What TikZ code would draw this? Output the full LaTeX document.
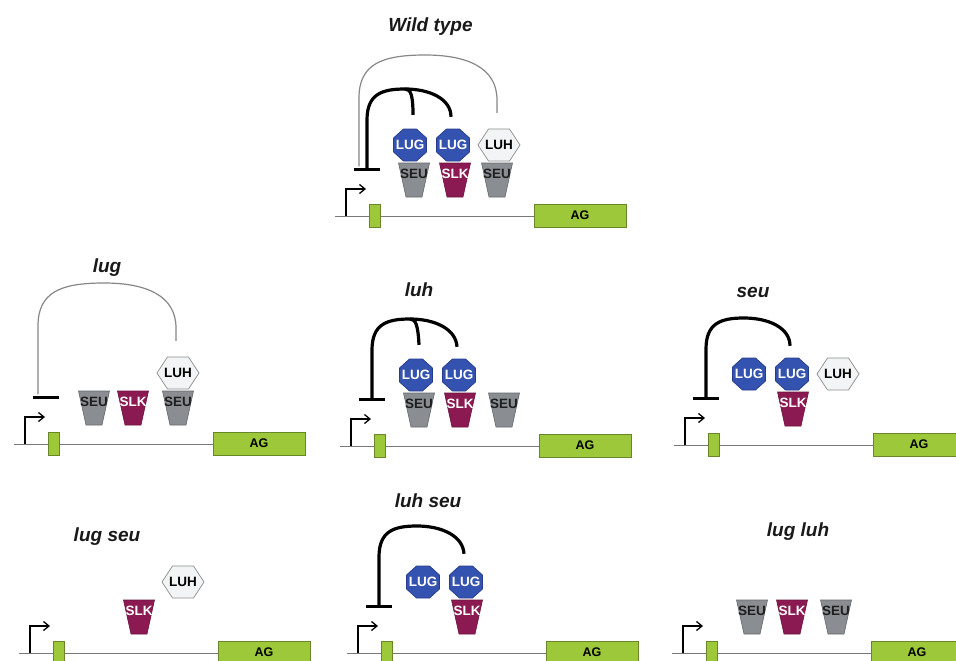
\documentclass[tikz,border=0pt]{standalone}
\usepackage{fontspec}
\setmainfont{Liberation Sans}
\usetikzlibrary{arrows.meta,calc}
\definecolor{lugblue}{RGB}{52,82,175}
\definecolor{lugedge}{RGB}{38,60,140}
\definecolor{seugrey}{RGB}{138,142,146}
\definecolor{seuedge}{RGB}{100,104,108}
\definecolor{seutext}{RGB}{30,30,30}
\definecolor{slkred}{RGB}{140,26,82}
\definecolor{slkedge}{RGB}{105,20,60}
\definecolor{luhbg}{RGB}{242,244,245}
\definecolor{luhedge}{RGB}{140,140,140}
\definecolor{aggreen}{RGB}{156,200,58}
\definecolor{agedge}{RGB}{105,135,40}
\definecolor{dnagrey}{RGB}{120,120,120}
\definecolor{curvegrey}{RGB}{135,135,135}
\tikzset{
 lugfill/.style={fill=lugblue,draw=lugedge,line width=0.7pt},
 luhfill/.style={fill=luhbg,draw=luhedge,line width=0.7pt},
 seufill/.style={fill=seugrey,draw=seuedge,line width=0.6pt},
 slkfill/.style={fill=slkred,draw=slkedge,line width=0.6pt},
 ptxt/.style={inner sep=0pt,font=\fontsize{13.5}{14}\selectfont\bfseries},
 lugtxt/.style={ptxt,text=white,minimum width=33pt,minimum height=32pt},
 luhtxt/.style={ptxt,text=black,minimum width=42pt,minimum height=32pt},
 seutxt/.style={ptxt,text=seutext},
 slktxt/.style={ptxt,text=white},
 exonbox/.style={fill=aggreen,draw=agedge,line width=0.7pt,minimum width=11pt,minimum height=23pt,inner sep=0pt},
 agbox/.style={exonbox,minimum width=92pt,font=\fontsize{12.5}{13}\selectfont\bfseries},
 dna/.style={draw=dnagrey,line width=1pt},
 prom/.style={draw=black,line width=1.3pt,-{Straight Barb[length=5.5pt,width=9pt]}},
 repbar/.style={fill=black,minimum width=26pt,minimum height=3pt,inner sep=0pt},
 repline/.style={draw=black,line width=3.2pt},
 luhline/.style={draw=curvegrey,line width=1.2pt},
 mtitle/.style={anchor=base,font=\fontsize{19}{20}\selectfont\bfseries\itshape,text=black!90},
}
% protein shapes (local panel coordinates, x right, y down, in px)
\newcommand\LUGnode[3]{%
 \path[lugfill] (#2-6.5,#3-16) -- (#2+6.5,#3-16) -- (#2+16.5,#3-7) -- (#2+16.5,#3+7) -- (#2+6.5,#3+16) -- (#2-6.5,#3+16) -- (#2-16.5,#3+7) -- (#2-16.5,#3-7) -- cycle;
 \node[lugtxt] (#1) at (#2,#3) {LUG};}
\newcommand\LUHnode[3]{%
 \path[luhfill] (#2-21,#3) -- (#2-10.5,#3-16) -- (#2+10.5,#3-16) -- (#2+21,#3) -- (#2+10.5,#3+16) -- (#2-10.5,#3+16) -- cycle;
 \node[luhtxt] (#1) at (#2,#3) {LUH};}
\newcommand\TRAPnode[6]{%
 \path[#4] (#2-15.5,#3) -- (#2+15.5,#3) -- (#2+8,#3+34) -- (#2-8,#3+34) -- cycle;
 \node[#5] (#1) at (#2,#3+11) {#6};}
\newcommand\GENE[1]{%
 \coordinate (#1S) at (335,216);
 \coordinate (#1A) at (534,216);
 \draw[dna] (#1S) -- (#1A);
 \node[exonbox] (#1E) at (374.5,215.5) {};
 \node[agbox] (#1AG) at (580,215.5) {AG};
 \coordinate (#1P0) at (346,216);
 \coordinate (#1P1) at (366,189);
 \draw[prom] (#1P0) |- (#1P1);}
\newcommand\BAR[1]{\node[repbar] (#1B) at (367,169) {};}
\newcommand\REPMAIN[1]{%
 \coordinate (#1K) at (405,89);
 \draw[repline] (#1B.center) -- (367,120) .. controls (367,94) and (382,89) .. (#1K) .. controls (430,89) and (451,99) .. ($(#1L2.north)+(-2,-12)$);}
\newcommand\REPBRANCH[1]{%
 \draw[repline] (#1K) .. controls (411,89) and (413,96) .. ($(#1L1.north)+(3,-14)$);}
\newcommand\LUHCURVE[1]{%
 \draw[luhline] ($(#1B.north)+(-8,-1)$) -- (359,98) .. controls (359,64) and (382,55) .. (425,55) .. controls (468,55) and (497,68) .. (497,100) -- ($(#1LH.north)+(-2,-16)$);}
\begin{document}
\begin{tikzpicture}[x=1pt,y=-1pt]
\useasboundingbox (0,0) rectangle (956,661);
\clip (0,0) rectangle (956,661);
\fill[white] (0,0) rectangle (956,661);
% titles
\node[mtitle] (tWT) at (430.5,32) {Wild type};
\node[mtitle] (tlug) at (107,272) {lug};
\node[mtitle] (tluh) at (419,296) {luh};
\node[mtitle] (tseu) at (753,297) {seu};
\node[mtitle] (tlugseu) at (107,541) {lug seu};
\node[mtitle] (tluhseu) at (428,507) {luh seu};
\node[mtitle] (tlugluh) at (798,536) {lug luh};
% Wild type
\begin{scope}
 \GENE{wt}
 \BAR{wt}
 \LUGnode{wtL1}{410}{145}
 \LUGnode{wtL2}{453}{145}
 \LUHnode{wtLH}{499}{145}
 \TRAPnode{wtS1}{414}{163}{seufill}{seutxt}{SEU}
 \TRAPnode{wtK}{455}{163}{slkfill}{slktxt}{SLK}
 \TRAPnode{wtS2}{497}{163}{seufill}{seutxt}{SEU}
 \LUHCURVE{wt}
 \REPMAIN{wt}
 \REPBRANCH{wt}
\end{scope}
% lug
\begin{scope}[shift={(-321,228)}]
 \GENE{lg}
 \BAR{lg}
 \LUHnode{lgLH}{499}{145}
 \TRAPnode{lgS1}{415}{163}{seufill}{seutxt}{SEU}
 \TRAPnode{lgK}{454}{163}{slkfill}{slktxt}{SLK}
 \TRAPnode{lgS2}{499}{163}{seufill}{seutxt}{SEU}
 \LUHCURVE{lg}
\end{scope}
% luh
\begin{scope}[shift={(5,230)}]
 \GENE{lh}
 \BAR{lh}
 \LUGnode{lhL1}{411}{145}
 \LUGnode{lhL2}{454}{145}
 \TRAPnode{lhS1}{414}{163}{seufill}{seutxt}{SEU}
 \TRAPnode{lhK}{455}{163}{slkfill}{slktxt}{SLK}
 \TRAPnode{lhS2}{499}{163}{seufill}{seutxt}{SEU}
 \REPMAIN{lh}
 \REPBRANCH{lh}
\end{scope}
% seu
\begin{scope}[shift={(339,229)}]
 \GENE{su}
 \BAR{su}
 \LUGnode{suL1}{410}{145}
 \LUGnode{suL2}{453}{145}
 \LUHnode{suLH}{499}{145}
 \TRAPnode{suK}{454}{163}{slkfill}{slktxt}{SLK}
 \REPMAIN{su}
\end{scope}
% lug seu
\begin{scope}[shift={(-316,437)}]
 \GENE{ls}
 \TRAPnode{lsK}{455}{163}{slkfill}{slktxt}{SLK}
 \LUHnode{lsLH}{499}{145}
\end{scope}
% luh seu
\begin{scope}[shift={(12,437)}]
 \GENE{hs}
 \BAR{hs}
 \LUGnode{hsL1}{411}{145}
 \LUGnode{hsL2}{454}{145}
 \TRAPnode{hsK}{455}{163}{slkfill}{slktxt}{SLK}
 \REPMAIN{hs}
\end{scope}
% lug luh
\begin{scope}[shift={(337,437)}]
 \GENE{ll}
 \TRAPnode{llS1}{415}{163}{seufill}{seutxt}{SEU}
 \TRAPnode{llK}{455}{163}{slkfill}{slktxt}{SLK}
 \TRAPnode{llS2}{499}{163}{seufill}{seutxt}{SEU}
\end{scope}
\end{tikzpicture}
\end{document}
